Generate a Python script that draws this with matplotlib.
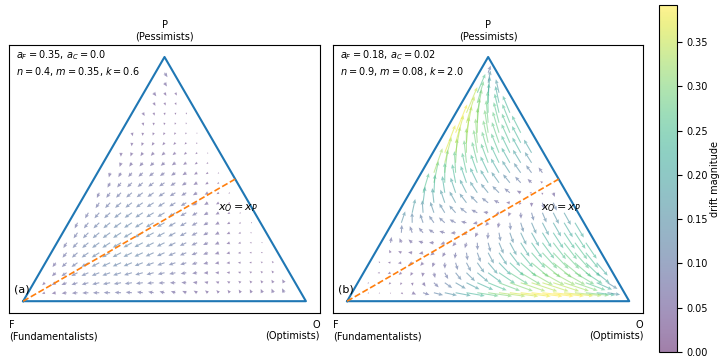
import numpy as np
import matplotlib
matplotlib.use('Agg')
import matplotlib.pyplot as plt
from matplotlib.colors import Normalize

plt.rcParams['font.size'] = 7

# Parameters of the two panels
panel_tags = ['(a)', '(b)']
a_F = [0.35, 0.18]
a_C = [0.0, 0.02]
n_vals = [0.4, 0.9]
m_vals = [0.35, 0.08]
k_vals = [0.6, 2.0]

vertex_labels = ['F\n(Fundamentalists)', 'O\n(Optimists)', 'P\n(Pessimists)']
line_label = r'$x_O = x_P$'

# simplex corners F, O, P in cartesian coordinates
h = np.sqrt(3) / 2
corners = np.array([[0.0, 0.0], [1.0, 0.0], [0.5, h]])


def drift(xf, xo, xp, aF, aC, n, m, k):
    # net flows between the three groups (mean field)
    f_to_o = xf * xo * (n * (k + 0.75) * (xo - xp) - aF - m * xf * xp)
    f_to_p = xf * xp * (n * (k + 0.75) * (xp - xo) - aF - m * xf * xo)
    p_to_o = (k * xo * xp * np.tanh(k * (xo - xp)) * (0.6 + xf)
              - aC * (xo - xp) + m * aF * (xp - xo) / 2)
    dxf = -f_to_o - f_to_p
    dxo = f_to_o + p_to_o
    dxp = f_to_p - p_to_o
    mag = np.sqrt(dxf**2 + dxo**2 + dxp**2)
    # direction in the plane of the triangle
    vec = dxf[:, None] * corners[0] + dxo[:, None] * corners[1] + dxp[:, None] * corners[2]
    return vec[:, 0], vec[:, 1], mag


# grid of points inside the triangle
gx, gy = np.meshgrid(np.linspace(0, 1, 27), np.linspace(0.03, 0.81, 23))
gp = gy / h
go = gx - gp / 2
gf = 1 - go - gp
inside = (gf > 0.03) & (go > 0.03) & (gp > 0.02)
X, Y = gx[inside], gy[inside]
xf, xo, xp = gf[inside], go[inside], gp[inside]

fields = [drift(xf, xo, xp, a_F[i], a_C[i], n_vals[i], m_vals[i], k_vals[i])
          for i in range(2)]
vmax = max(f[2].max() for f in fields)
norm = Normalize(0, vmax)

fig = plt.figure(figsize=(7.2, 3.64), dpi=100)
ax_pos = [[0.0125, 0.14, 0.432, 0.736], [0.4625, 0.14, 0.431, 0.736]]

for i in range(2):
    ax = fig.add_axes(ax_pos[i])
    u, v, mag = fields[i]
    q = ax.quiver(X, Y, u, v, mag, cmap='viridis', norm=norm, alpha=0.5,
                  angles='xy', scale_units='xy', scale=2.5,
                  width=0.0035, headwidth=3.5, headlength=4, headaxislength=3.5)
    tri = np.vstack([corners, corners[:1]])
    ax.plot(tri[:, 0], tri[:, 1], color='#1f77b4', lw=1.5)
    ax.plot([0, 0.75], [0, h / 2], color='#ff7f0e', ls='--', lw=1.2)
    ax.text(0.76, 0.33, line_label, ha='center', va='center', fontsize=8)
    ax.text(-0.005, 0.04, panel_tags[i], ha='center', va='center', fontsize=8)
    ax.text(0.022, 0.99,
            rf'$a_F = {a_F[i]}$, $a_C = {a_C[i]}$' + '\n' +
            rf'$n = {n_vals[i]}$, $m = {m_vals[i]}$, $k = {k_vals[i]}$',
            transform=ax.transAxes, ha='left', va='top', linespacing=1.35)
    ax.text(0.5, 1.012, vertex_labels[2], transform=ax.transAxes,
            ha='center', va='bottom')
    ax.text(0.0, -0.025, vertex_labels[0], transform=ax.transAxes,
            ha='left', va='top')
    ax.text(1.0, -0.025, vertex_labels[1], transform=ax.transAxes,
            ha='right', va='top')
    ax.set_xlim(-0.05, 1.05)
    ax.set_ylim(-0.042, 0.908)
    ax.set_xticks([])
    ax.set_yticks([])

cax = fig.add_axes([0.915, 0.033, 0.025, 0.953])
cb = fig.colorbar(q, cax=cax)
cb.set_label('drift magnitude', labelpad=1)

fig.savefig('out.png', dpi=100)
